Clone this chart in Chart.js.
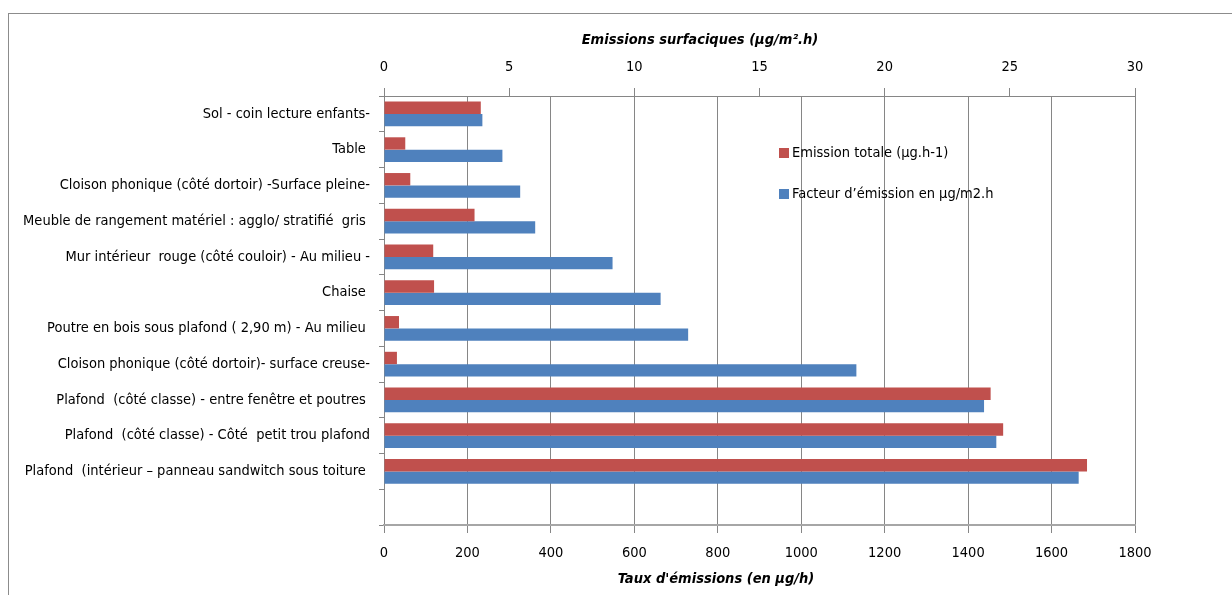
<!DOCTYPE html>
<html lang="fr">
<head>
<meta charset="utf-8">
<title>Emissions</title>
<script src="https://cdn.jsdelivr.net/npm/chart.js@4"></script>
<style>
    html, body { margin: 0; padding: 0; background: #fff; }
    #cadre { position: absolute; left: 8px; top: 13px; width: 1240px; height: 600px; border: 1px solid #8c8c8c; }
    #zone { position: absolute; left: 0; top: 0; width: 1232px; height: 595px; }
</style>
</head>
<body>
<div id="cadre"></div>
<div id="zone"><canvas id="emissionsChart" width="1232" height="595"></canvas></div>
<script>
// categories, de haut en bas (la derniere case est vide comme dans Excel)
const categories = [
    'Sol - coin lecture enfants-',
    'Table ',
    'Cloison phonique (côté dortoir) -Surface pleine-',
    'Meuble de rangement matériel : agglo/ stratifié  gris ',
    'Mur intérieur  rouge (côté couloir) - Au milieu -',
    'Chaise ',
    'Poutre en bois sous plafond ( 2,90 m) - Au milieu ',
    'Cloison phonique (côté dortoir)- surface creuse-',
    'Plafond  (côté classe) - entre fenêtre et poutres ',
    'Plafond  (côté classe) - Côté  petit trou plafond',
    'Plafond  (intérieur – panneau sandwitch sous toiture ',
    ''
];

// Emission totale (µg/h) - axe du bas
const emissionTotale = [232, 51, 63, 217, 118, 120, 36, 31, 1454, 1484, 1685, null];

// Facteur d'emission (µg/m2.h) - axe du haut
const facteurEmission = [3.93, 4.73, 5.44, 6.04, 9.13, 11.05, 12.15, 18.87, 23.97, 24.46, 27.75, null];

const titreHaut = 'Emissions surfaciques (µg/m².h)';
const titreBas = 'Taux d\'émissions (en µg/h)';
const libelleRouge = 'Emission totale (µg.h-1)';
const libelleBleu = 'Facteur d’émission en µg/m2.h';

const police = '"DejaVu Sans Condensed", sans-serif';
const taille = 14.5;

document.addEventListener('DOMContentLoaded', function() {
    dessinerGraphique();
});

// titres des axes et legende dans la zone de trace
const decorPlugin = {
    id: 'decor',
    afterDraw(chart) {
        const ctx = chart.ctx;
        ctx.save();
        ctx.fillStyle = '#000';
        ctx.textAlign = 'center';
        ctx.textBaseline = 'middle';
        ctx.font = 'italic bold 14.5px ' + police;
        ctx.fillText(titreHaut, 700, 40);
        ctx.fillText(titreBas, 716, 579);

        ctx.font = taille + 'px ' + police;
        ctx.textAlign = 'left';
        chart.data.datasets.forEach((ds, i) => {
            const y = 153 + i * 41;
            ctx.fillStyle = ds.backgroundColor;
            ctx.fillRect(779, y - 5, 10, 10);
            ctx.fillStyle = '#000';
            ctx.fillText(ds.label, 792, y);
        });
        ctx.restore();
    }
};

function dessinerGraphique() {
    const ctx = document.getElementById('emissionsChart').getContext('2d');
    const fonte = { family: police, size: taille };

    new Chart(ctx, {
        type: 'bar',
        data: {
            labels: categories,
            datasets: [{
                label: libelleRouge,
                data: emissionTotale,
                xAxisID: 'x',
                backgroundColor: '#C0504D',
                categoryPercentage: 0.69,
                barPercentage: 1.0
            }, {
                label: libelleBleu,
                data: facteurEmission,
                xAxisID: 'x2',
                backgroundColor: '#4F81BD',
                categoryPercentage: 0.69,
                barPercentage: 1.0
            }]
        },
        options: {
            indexAxis: 'y',
            responsive: false,
            animation: false,
            devicePixelRatio: 1,
            layout: { padding: { left: 0, right: 97, top: 0, bottom: 0 } },
            plugins: {
                legend: { display: false },
                tooltip: { enabled: false }
            },
            scales: {
                y: {
                    afterFit: s => { s.width = 384; },
                    grid: { drawOnChartArea: false, tickLength: 5, color: '#868686' },
                    border: { color: '#868686' },
                    ticks: { autoSkip: false, color: '#000', padding: 9, font: fonte }
                },
                x: {
                    position: 'bottom',
                    min: 0,
                    max: 1800,
                    afterFit: s => { s.height = 70; },
                    grid: { color: '#868686', tickLength: 8 },
                    border: { color: '#a6a6a6', width: 2 },
                    ticks: { stepSize: 200, color: '#000', padding: 12, font: fonte, callback: v => String(v) }
                },
                x2: {
                    position: 'top',
                    min: 0,
                    max: 30,
                    afterFit: s => { s.height = 96; },
                    grid: { drawOnChartArea: false, color: '#868686', tickLength: 8 },
                    border: { color: '#868686' },
                    ticks: { stepSize: 5, color: '#000', padding: 12, font: fonte, callback: v => String(v) }
                }
            }
        },
        plugins: [decorPlugin]
    });
}
</script>
</body>
</html>
